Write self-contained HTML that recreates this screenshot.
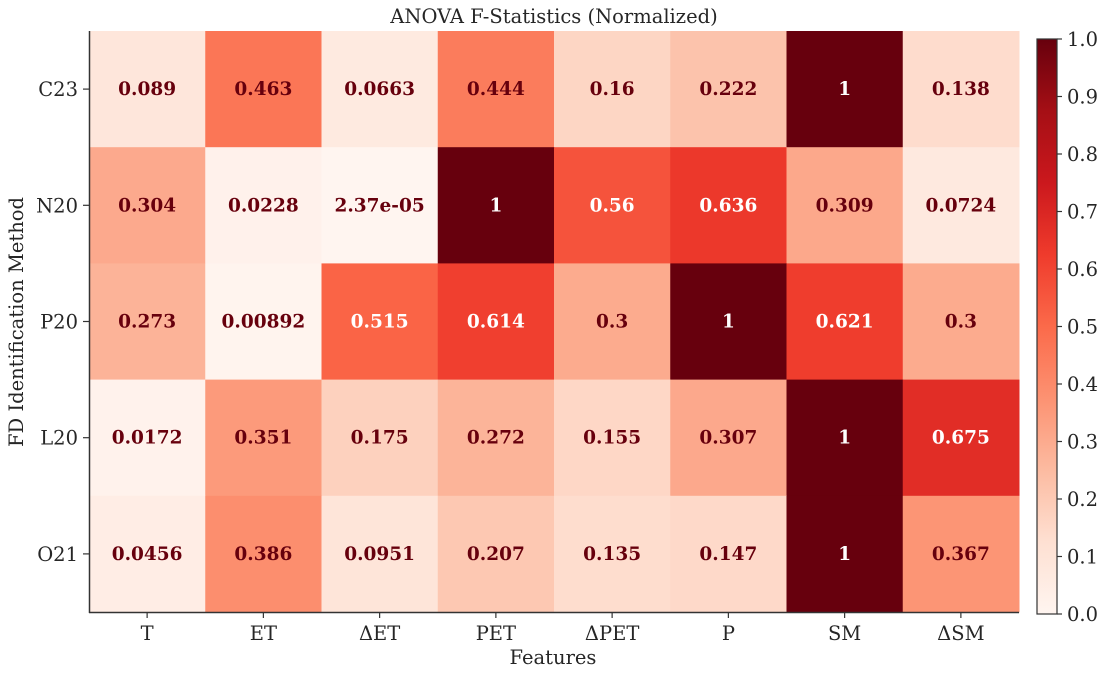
<!DOCTYPE html>
<html><head><meta charset="utf-8"><style>
body{margin:0;background:#fff;}
svg text{font-family:"DejaVu Serif","Liberation Serif",serif;}
</style></head><body>
<svg id="chart" width="1108" height="678" xmlns="http://www.w3.org/2000/svg">
<defs><linearGradient id="reds" x1="0" y1="1" x2="0" y2="0">
<stop offset="0" stop-color="#fff5f0"/><stop offset="0.125" stop-color="#fee0d2"/><stop offset="0.25" stop-color="#fcbba1"/><stop offset="0.375" stop-color="#fc9272"/><stop offset="0.5" stop-color="#fb6a4a"/><stop offset="0.625" stop-color="#ef3b2c"/><stop offset="0.75" stop-color="#cb181d"/><stop offset="0.875" stop-color="#a50f15"/><stop offset="1" stop-color="#67000d"/>
</linearGradient></defs>
<text x="554" y="23" text-anchor="middle" font-size="19.5" fill="#262626">ANOVA F-Statistics (Normalized)</text>
<g id="cells"></g>
<line x1="89.5" y1="31" x2="89.5" y2="613" stroke="#333" stroke-width="1.5"/>
<line x1="89" y1="612.5" x2="1019" y2="612.5" stroke="#333" stroke-width="1.5"/>
<g id="ticks"></g>
<text x="553" y="664" text-anchor="middle" font-size="19.5" fill="#262626">Features</text>
<text transform="translate(23,322) rotate(-90)" text-anchor="middle" font-size="19.5" fill="#262626">FD Identification Method</text>
<rect x="1037" y="39" width="20" height="575" fill="url(#reds)" stroke="#333" stroke-width="1.2"/>
<g id="cbticks"></g>
</svg>
<script>
const features=["T","ET","ΔET","PET","ΔPET","P","SM","ΔSM"];
const methods=["C23","N20","P20","L20","O21"];
const rowC23=[0.089,0.463,0.0663,0.444,0.16,0.222,1,0.138];
const rowN20=[0.304,0.0228,0.0000237,1,0.56,0.636,0.309,0.0724];
const rowP20=[0.273,0.00892,0.515,0.614,0.3,1,0.621,0.3];
const rowL20=[0.0172,0.351,0.175,0.272,0.155,0.307,1,0.675];
const rowO21=[0.0456,0.386,0.0951,0.207,0.135,0.147,1,0.367];
const values=[rowC23,rowN20,rowP20,rowL20,rowO21];
const cbTicks=[0,0.1,0.2,0.3,0.4,0.5,0.6,0.7,0.8,0.9,1.0];

const NS="http://www.w3.org/2000/svg";
const X0=89,X1=1019,Y0=31,Y1=612;
const cw=(X1-X0)/features.length, ch=(Y1-Y0)/methods.length;
const xPos=i=>X0+i*cw, yPos=j=>Y0+j*ch;
const stops=[[255,245,240],[254,224,210],[252,187,161],[252,146,114],[251,106,74],[239,59,44],[203,24,29],[165,15,21],[103,0,13]];
function color(v){v=Math.max(0,Math.min(1,v));const t=v*8,i=Math.min(7,Math.floor(t)),f=t-i;
const a=stops[i],b=stops[i+1];return`rgb(${a.map((c,k)=>Math.round(c+(b[k]-c)*f)).join(",")})`;}
function fmt(v){if(v!==0&&Math.abs(v)<1e-4){let s=v.toExponential(2);return s.replace(/e([+-])(\d)$/,"e$10$2");}return String(Number(v.toPrecision(3)));}
function mk(tag,attrs,parent){const e=document.createElementNS(NS,tag);for(const k in attrs)e.setAttribute(k,attrs[k]);parent.appendChild(e);return e;}
const cells=document.getElementById("cells"),ticks=document.getElementById("ticks"),cb=document.getElementById("cbticks");
values.forEach((row,j)=>row.forEach((v,i)=>{
 const r=mk("rect",{x:xPos(i),y:yPos(j),width:cw+0.5,height:ch+0.5,fill:color(v)},cells);
 
 
 const t=mk("text",{x:xPos(i)+cw/2,y:yPos(j)+ch/2+6,"text-anchor":"middle","font-size":"18.5","font-weight":"bold",fill:v>0.5?"#fff":"#67000d"},cells);
 t.textContent=fmt(v);
 
 
}));
features.forEach((f,i)=>{const cx=xPos(i)+cw/2;
 mk("line",{x1:cx,x2:cx,y1:612,y2:618,stroke:"#333","stroke-width":1.2},ticks);
 const t=mk("text",{x:cx,y:640,"text-anchor":"middle","font-size":"19.5",fill:"#262626"},ticks);t.textContent=f;
 
 });
methods.forEach((m,j)=>{const cy=yPos(j)+ch/2;
 mk("line",{x1:83,x2:89,y1:cy,y2:cy,stroke:"#333","stroke-width":1.2},ticks);
 const t=mk("text",{x:78,y:cy+7,"text-anchor":"end","font-size":"19.5",fill:"#262626"},ticks);t.textContent=m;
 
 });
cbTicks.forEach(v=>{const y=614-v*575;
 mk("line",{x1:1057,x2:1062,y1:y,y2:y,stroke:"#333","stroke-width":1.2},cb);
 const t=mk("text",{x:1067,y:y+7,"font-size":"19.5",fill:"#262626"},cb);t.textContent=v.toFixed(1);
 
 });
</script>
</body></html>
